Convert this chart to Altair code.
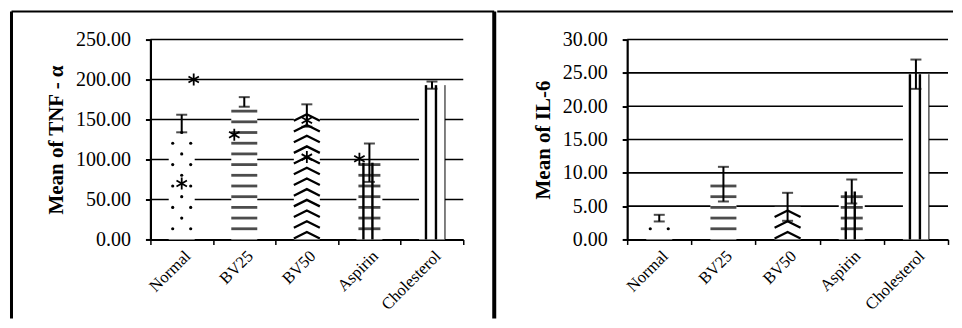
import altair as alt
import pandas as pd

# ---------------- data ----------------
categories = ["Normal", "BV25", "BV50", "Aspirin", "Cholesterol"]
patterns = ["dots", "hlines", "chevrons", "grid", "vlines"]

tnf_mean = [145, 172, 155, 96, 193]
tnf_err = [11, 6, 14, 24, 4.5]
tnf_ticks = [0, 50, 100, 150, 200, 250]

il6_mean = [3.2, 8.3, 4.9, 7.2, 24.8]
il6_err = [0.5, 2.6, 2.1, 1.8, 2.2]
il6_ticks = [0, 5, 10, 15, 20, 25, 30]

tnf_star_cat = ["Normal", "Normal", "BV25", "BV50", "BV50", "Aspirin"]
tnf_star_val = [200, 70, 131, 149, 103, 101]
tnf_star_side = ["right", "center", "left", "center", "center", "left"]

il6_star_cat = []
il6_star_val = []
il6_star_side = []

FONT = "Liberation Serif"
PLOT_H = 200
PATTERN_PX = 10.7
BAR_W = 26

CHEVRON = "M-1,0.25L0,-0.25L1,0.25"
ASTERISK = "M0,-1L0,1M-0.87,-0.5L0.87,0.5M-0.87,0.5L0.87,-0.5"


def pattern_rows(means, ymax):
    step = PATTERN_PX * ymax / PLOT_H
    rows = []
    for cat, pat, m in zip(categories, patterns, means):
        k = 1
        while True:
            if pat == "chevrons":
                v = (k - 0.6) * step
            else:
                v = k * step
            if v > m + 1e-9:
                break
            if pat == "dots":
                if k % 2 == 1:
                    rows.append({"cat": cat, "pat": pat, "v": v, "col": "L"})
                    rows.append({"cat": cat, "pat": pat, "v": v, "col": "R"})
                else:
                    rows.append({"cat": cat, "pat": pat, "v": v, "col": "M"})
            else:
                rows.append({"cat": cat, "pat": pat, "v": v, "col": "M"})
            k += 1
    return pd.DataFrame(rows, columns=["cat", "pat", "v", "col"])


def panel(title, means, errs, ticks, width, star_cat, star_val, star_side,
          left_frame):
    ymax = ticks[-1]
    ysc = alt.Scale(domain=[0, ymax], nice=False, zero=True)
    xsc = alt.Scale(domain=categories, paddingInner=0, paddingOuter=0)

    df = pd.DataFrame({"cat": categories, "pat": patterns,
                       "mean": means, "err": errs})
    df["lo"] = df["mean"] - df["err"]
    df["hi"] = df["mean"] + df["err"]

    x_axis = alt.Axis(title=None, labelAngle=-45, tickBand="extent")
    y_axis = alt.Axis(title=title, values=ticks, format=".2f", grid=False)

    X = alt.X("cat:N", scale=xsc, sort=categories, axis=x_axis)

    def Yf(field):
        return alt.Y(field, scale=ysc, axis=y_axis)

    bars = alt.Chart(df).mark_bar(size=BAR_W, color="white").encode(
        x=X, y=Yf("mean:Q"), y2=alt.datum(0))

    grid = alt.Chart(pd.DataFrame({"v": ticks[1:]})).mark_rule(
        color="black", strokeWidth=1.6).encode(y=Yf("v:Q"))

    pdf = pattern_rows(means, ymax)
    base_p = alt.Chart(pdf)

    dots = []
    for col, off in [("L", -9), ("M", 0), ("R", 9)]:
        dots.append(base_p.transform_filter(
            f"datum.pat == 'dots' && datum.col == '{col}'").mark_circle(
            size=10, color="black", opacity=1, xOffset=off).encode(
            x=X, y=Yf("v:Q")))

    hl = base_p.transform_filter("datum.pat == 'hlines'").mark_tick(
        orient="horizontal", size=BAR_W, thickness=2.8, color="black").encode(
        x=X, y=Yf("v:Q"))
    gh = base_p.transform_filter("datum.pat == 'grid'").mark_tick(
        orient="horizontal", size=22, thickness=2.8, color="black").encode(
        x=X, y=Yf("v:Q"))
    chev = base_p.transform_filter("datum.pat == 'chevrons'").mark_point(
        shape=CHEVRON, size=BAR_W * BAR_W, filled=False, color="black",
        strokeWidth=2.3, opacity=1).encode(x=X, y=Yf("v:Q"))

    vrules = []
    for pat, off, sw in [("grid", -6, 2.4), ("grid", 3, 2.4),
                         ("vlines", -6, 2.4), ("vlines", 4, 2.4),
                         ("vlines", 13, 1.0)]:
        vrules.append(alt.Chart(df).transform_filter(
            f"datum.pat == '{pat}'").mark_rule(
            color="black", strokeWidth=sw, xOffset=off).encode(
            x=X, y=Yf("mean:Q"), y2=alt.datum(0)))

    stem = alt.Chart(df).mark_rule(color="black", strokeWidth=2).encode(
        x=X, y=Yf("lo:Q"), y2="hi:Q")
    cap_hi = alt.Chart(df).mark_tick(orient="horizontal", size=11,
                                     thickness=2, color="black").encode(
        x=X, y=Yf("hi:Q"))
    cap_lo = alt.Chart(df).mark_tick(orient="horizontal", size=11,
                                     thickness=2, color="black").encode(
        x=X, y=Yf("lo:Q"))

    layers = [grid, bars] + dots + [hl, gh, chev] + vrules + [stem, cap_hi, cap_lo]

    if star_cat:
        sdf = pd.DataFrame({"cat": star_cat, "v": star_val, "side": star_side})
        for side, off in [("left", -10), ("center", 0), ("right", 12)]:
            layers.append(alt.Chart(sdf).transform_filter(
                f"datum.side == '{side}'").mark_point(
                shape=ASTERISK, size=144, filled=False, color="black",
                strokeWidth=1.8, opacity=1, xOffset=off).encode(
                x=X, y=Yf("v:Q")))

    one = pd.DataFrame({"k": [0]})
    top_y = -28
    bottom_y = 279
    if left_frame:
        layers.append(alt.Chart(one).mark_rule(color="black", strokeWidth=3).encode(
            x=alt.value(-139), y=alt.value(top_y), y2=alt.value(bottom_y)))
        layers.append(alt.Chart(one).mark_rule(color="black", strokeWidth=2).encode(
            x=alt.value(-139), x2=alt.value(344), y=alt.value(top_y)))
        layers.append(alt.Chart(one).mark_rule(color="black", strokeWidth=4).encode(
            x=alt.value(344), y=alt.value(top_y), y2=alt.value(bottom_y)))
    else:
        layers.append(alt.Chart(one).mark_rule(color="black", strokeWidth=2).encode(
            x=alt.value(-130), x2=alt.value(326), y=alt.value(top_y)))

    return alt.layer(*layers).properties(width=width, height=PLOT_H)


left = panel("Mean of TNF - α", tnf_mean, tnf_err, tnf_ticks, 313,
             tnf_star_cat, tnf_star_val, tnf_star_side, True)
right = panel("Mean of IL-6", il6_mean, il6_err, il6_ticks, 321,
              il6_star_cat, il6_star_val, il6_star_side, False)

chart = alt.hconcat(left, right, spacing=0).properties(
    padding={"left": 1.5, "top": 1.5, "right": 0, "bottom": 0},
    background="white",
).configure_view(stroke=None).configure_axis(
    domainColor="black", tickColor="black", labelColor="black",
    titleColor="black", labelFont=FONT, titleFont=FONT, zindex=1,
    labelOverlap=False,
).configure_axisY(
    tickSize=5, tickWidth=2, domainWidth=2.2, labelFontSize=20,
    labelPadding=15, titleFontSize=21, titleFontWeight="bold",
    titlePadding=9,
).configure_axisX(
    tickSize=5, tickWidth=1.5, domainWidth=2, labelFontSize=16.5,
    labelPadding=3,
)

chart.save("out.html", embed_options={"renderer": "svg", "actions": False})
